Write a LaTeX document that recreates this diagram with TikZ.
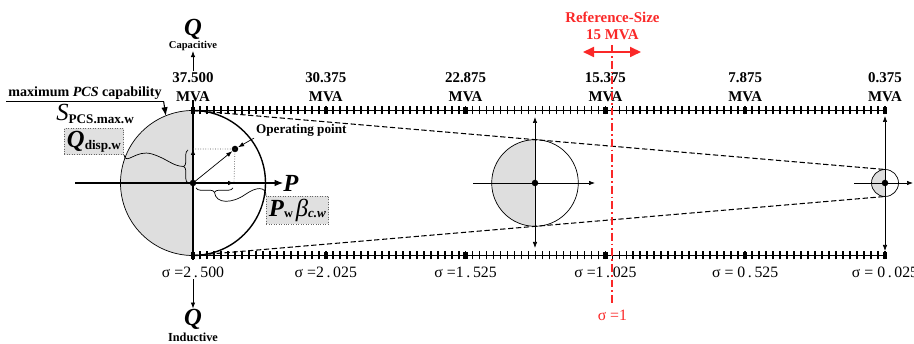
\documentclass[tikz,border=0pt]{standalone}
\usepackage{fontspec}
\setmainfont{Liberation Serif}
\usetikzlibrary{positioning,arrows.meta,calc,decorations.pathreplacing}
\definecolor{refred}{RGB}{250,40,40}
\definecolor{halfgray}{RGB}{222,222,222}
\tikzset{
  axis/.style={-{Latex[length=1.7mm,width=1.3mm]}, semithick},
  thinaxis/.style={-{Latex[length=1.2mm,width=0.9mm]}, thin},
  envelope/.style={dash pattern=on 3pt off 1.5pt, semithick},
  scaleline/.style={semithick},
  minortick/.style={line width=1pt},
  majortick/.style={fill=black, minimum width=0.9mm, minimum height=1.5mm, inner sep=0pt},
  mvalbl/.style={font=\fontsize{8.5}{10.5}\selectfont\bfseries, align=center, anchor=south, inner sep=1pt},
  sigmalbl/.style={font=\fontsize{9}{10}\selectfont, anchor=north, inner sep=1pt},
  qlbl/.style={font=\fontsize{14}{14}\selectfont\bfseries\itshape, inner sep=0pt},
  sidelbl/.style={font=\fontsize{6}{6}\selectfont\bfseries, inner sep=0pt},
  infobox/.style={draw=black!60, densely dotted, fill=black!12, inner sep=1.5pt},
  opdot/.style={circle, fill, inner sep=0pt, minimum size=1.3mm},
  guide/.style={densely dotted, black!70},
  wiggle/.style={thin},
  smalllbl/.style={font=\fontsize{7.5}{8}\selectfont\bfseries, inner sep=1pt},
  redlbl/.style={font=\fontsize{8.5}{9.5}\selectfont\bfseries, text=refred, align=center},
  refline/.style={refred, line width=1.2pt, dash pattern=on 4.5pt off 1.7pt on 1pt off 1.7pt},
  refarrow/.style={{Triangle[length=2.2mm,width=2mm]}-{Triangle[length=2.2mm,width=2mm]}, refred, line width=1pt},
  brace/.style={decorate, decoration={brace, amplitude=2.5pt}, thin}
}
\begin{document}
\begin{tikzpicture}[x=0.02cm, y=0.02cm]
\useasboundingbox (0,0) rectangle (914,344);
% capability circles: big one, mid one, small one
\coordinate (O) at (193,161);
\coordinate (M) at (535,161);
\coordinate (S) at (885,161);
\fill[halfgray] (193,233.5) arc[start angle=90, end angle=270, radius=72.5] -- cycle;
\draw[thin] (193,233.5) arc[start angle=90, end angle=270, radius=72.5];
\draw[thick] (193,233.5) arc[start angle=90, end angle=-90, radius=72.5];
\fill[halfgray] (535,204.3) arc[start angle=90, end angle=270, radius=43.3] -- cycle;
\draw[thin] (M) circle[radius=43.3];
\fill[halfgray] (885,174.5) arc[start angle=90, end angle=270, radius=13.5] -- cycle;
\draw[thin] (S) circle[radius=13.5];

% scales
\draw[scaleline] (193,233.5) -- (885,233.5);
\draw[scaleline] (193,88.5) -- (885,88.5);
\foreach \k in {0,...,99}{
  \draw[minortick] ({193+\k*6.99},229.5) -- ++(0,8);
  \draw[minortick] ({193+\k*6.99},84.5) -- ++(0,8);
}
\foreach \k/\v/\s [count=\i] in {0/37.500/{2\,.\,500}, 19/30.375/{2\,.\,025}, 39/22.875/{1\,.\,525}, 59/15.375/{1\,.\,025}, 79/7.875/{\ 0\,.\,525}, 99/0.375/{\ 0\,.\,025}}{
  \node[majortick] (top\i) at ({193+\k*6.99},233.5) {};
  \node[majortick] (bot\i) at ({193+\k*6.99},88.5) {};
  \node[mvalbl] (mva\i) at ($(top\i)+(0,7)$) {\v\\MVA};
  \node[sigmalbl] (sig\i) at ($(bot\i)+(0,-9)$) {σ =\s};
}

% envelope
\coordinate (bigtop) at (193,233.5);
\coordinate (bigbot) at (193,88.5);
\coordinate (smalltop) at (885,174.5);
\coordinate (smallbot) at (885,147.5);
\draw[envelope] (bigtop) -- (smalltop);
\draw[envelope] (bigbot) -- (smallbot);

% main axes
\coordinate (qtop) at (193,244);
\coordinate (qbot) at (193,84);
\coordinate (pstart) at (75,161);
\draw[semithick] (qtop) -- (qbot);
\node[qlbl] (P) at (291,161) {P};
\draw[axis] (pstart) -- (P.west);
\node[qlbl] (Qcap) at (193,315) {Q};
\node[sidelbl] (cap) at (193,298) {Capacitive};
\draw[thinaxis] (mva1.north) -- (cap.south);
\node[qlbl] (Qind) at (193,25) {Q};
\node[sidelbl, font=\fontsize{7}{7}\selectfont\bfseries] (ind) at (193,7) {Inductive};
\draw[thinaxis] (sig1.south) -- (Qind.north);

% mid and small circle axes
\coordinate (mtop) at (535,227);
\coordinate (mbot) at (535,96);
\coordinate (mleft) at (473,161);
\coordinate (mright) at (595,161);
\draw[thinaxis] (M) -- (mtop);
\draw[thinaxis] (M) -- (mbot);
\draw[thinaxis] (mleft) -- (mright);
\node[opdot] (mdot) at (M) {};
\coordinate (stop) at (885,228);
\coordinate (sbot) at (885,93);
\coordinate (sleft) at (854,161);
\coordinate (sright) at (913,161);
\draw[thinaxis] (S) -- (stop);
\draw[thinaxis] (S) -- (sbot);
\draw[thinaxis] (sleft) -- (sright);
\node[opdot] (sdot) at (S) {};

% operating point
\node[opdot] (odot) at (O) {};
\node[opdot] (op) at (235,195) {};
\coordinate (opq) at (193,195);
\coordinate (opp) at (234,161);
\draw[guide] (opq) -- (op.center) -- (opp);
\draw[thinaxis] (O) -- (op);
\draw[thinaxis] (O) -- (opq);
\draw[thinaxis] (O) -- (opp);
\node[smalllbl, anchor=west] (oplabel) at (254,214) {Operating point};
\draw[thinaxis] (oplabel.south west) -- (op);

% capability labels
\node[smalllbl, font=\fontsize{8}{8}\selectfont\bfseries] (maxcap) at (85,251) {maximum \textit{PCS} capability};
\coordinate (bigedge) at ($(O)+(112:72.5)$);
\draw[line width=1.1pt] (maxcap.south west) -- (maxcap.south east);
\draw[axis] (maxcap.south east) -- (bigedge);
\node[inner sep=0pt, anchor=base west] (spcs) at (56,223) {{\fontsize{14}{14}\selectfont\itshape S}\raisebox{-1.5pt}{\fontsize{7.5}{8}\selectfont\bfseries PCS.max.w}};

% Q and P components
\node[infobox] (qdisp) at (94,202.5) {{\fontsize{14}{14}\selectfont\bfseries\itshape Q}\raisebox{-1pt}{\fontsize{7.5}{8}\selectfont\bfseries disp.w}};
\draw[brace] (188,161) -- (188,194);
\coordinate (qbrace) at (183.5,177.5);
\draw[wiggle] (qdisp.south east) .. controls (126,178) and (136,195) .. (152,190) .. controls (168,185) and (172,178) .. (qbrace);
\node[infobox] (pbox) at (297.5,134) {{\fontsize{14}{14}\selectfont\bfseries\itshape P}\raisebox{-1pt}{\fontsize{7}{8}\selectfont\bfseries w}\,{\fontsize{14}{14}\selectfont\itshape β}\raisebox{-1pt}{\fontsize{7.5}{8}\selectfont\bfseries\itshape c.w}};
\draw[brace] (233,156) -- (196,156);
\coordinate (pbrace) at (214.5,151.5);
\draw[wiggle] (pbrace) .. controls (216,140) and (232,140) .. (246,150) .. controls (256,157) and (266,158) .. (pbox.north west);

% reference size
\coordinate (reftop) at (612.4,299);
\coordinate (refbot) at (612.4,40);
\draw[refline] (reftop) -- (refbot);
\node[redlbl] (reftxt) at (612.4,318) {Reference-Size\\15 MVA};
\coordinate (refL) at (583,292);
\coordinate (refR) at (641,292);
\draw[refarrow] (refL) -- (refR);
\node[redlbl, font=\fontsize{9}{10}\selectfont, anchor=north] (refsig) at (refbot) {σ =1};
\end{tikzpicture}
\end{document}
